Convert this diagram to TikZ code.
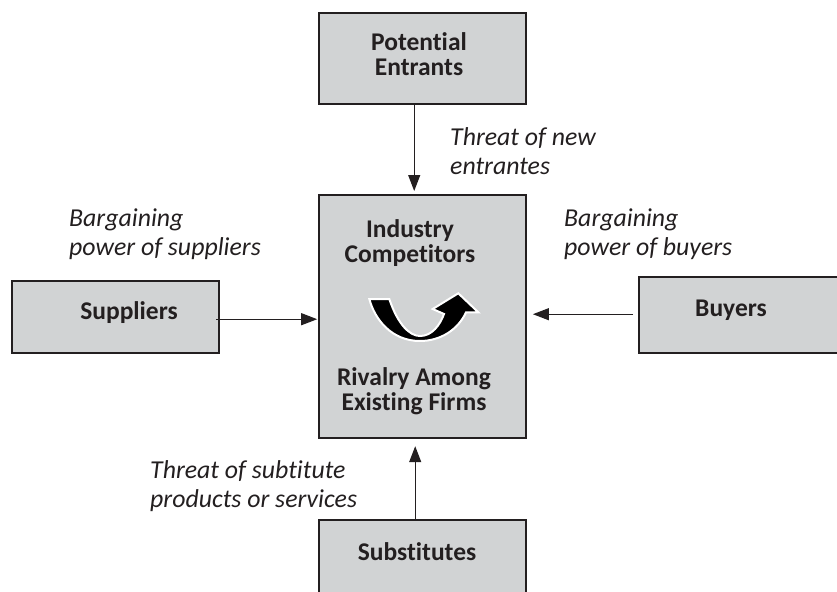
\documentclass[tikz,border=0pt]{standalone}
\usepackage{fontspec}
\setmainfont[Ligatures=NoCommon]{Carlito}
\usetikzlibrary{arrows.meta}
\definecolor{ink}{HTML}{231F20}
\definecolor{boxgray}{HTML}{D1D3D4}
\tikzset{
  boxnode/.style={draw=ink,fill=boxgray,line width=2.4pt,inner sep=0pt,anchor=north west},
  boldtext/.style={font=\fontsize{25.5}{25.5}\selectfont\bfseries,text=ink,align=center,inner sep=0pt},
  itext/.style={font=\fontsize{25.8}{28.5}\selectfont\itshape,text=ink,align=left,inner sep=0pt,anchor=west},
  arr/.style={draw=ink,line width=1.1pt,-{Triangle[length=16pt,width=12pt]}}
}
\begin{document}
\begin{tikzpicture}[x=1pt,y=-1pt]
\useasboundingbox (0,0) rectangle (837,591);
\begin{scope}
\clip (0,0) rectangle (837,591);
\node[boxnode,minimum width=207pt,minimum height=91pt] (pot) at (318,12) {};
\node[boxnode,minimum width=207pt,minimum height=243pt] (main) at (317.5,194) {};
\node[boxnode,minimum width=207pt,minimum height=72pt] (sup) at (11,280) {};
\node[boxnode,minimum width=200pt,minimum height=76pt] (buy) at (638,276) {};
\node[boxnode,minimum width=207pt,minimum height=90pt] (sub) at (317.5,519) {};
\end{scope}
\node[boldtext] (tpot) at (419,54) {Potential\\Entrants};
\node[boldtext] (tind) at (410,243) {Industry\\Competitors};
\node[boldtext] (triv) at (414,391) {Rivalry Among\\Existing Firms};
\node[boldtext] (tsup) at (129,313) {Suppliers};
\node[boldtext] (tbuy) at (731,310) {Buyers};
\node[boldtext] (tsub) at (417,552) {Substitutes};
\node[itext] (lnew) at (450,151) {Threat of new\\entrantes};
\node[itext] (lsup) at (69,234) {Bargaining\\power of suppliers};
\node[itext] (lbuy) at (564,234) {Bargaining\\power of buyers};
\node[itext] (lsub) at (150,486) {Threat of subtitute\\products or services};
\draw[arr,shorten >=3pt] ([xshift=-8.5pt]pot.south) -- ([xshift=-8pt]main.north);
\draw[arr,shorten <=-4pt,shorten >=0.3pt] ([yshift=-2pt]sup.east) -- ([yshift=-2.5pt]main.west);
\draw[arr,shorten <=4.8pt,shorten >=6pt] ([yshift=1pt]buy.west) -- ([yshift=2.5pt]main.east);
\draw[arr,shorten >=6.8pt] ([xshift=-7pt]sub.north) -- ([xshift=-7pt]main.south);
\draw[white,fill=black,line width=2pt,miter limit=10]
  (369.3,299) -- (389.3,299)
  .. controls (398,325) and (410,336) .. (420,336)
  .. controls (432,336) and (440,325) .. (444,314)
  -- (432.7,309) -- (458.3,293.3) -- (478.3,312.3) -- (466,312.3)
  .. controls (458,330) and (440,341) .. (420,341)
  .. controls (392,341) and (375,320) .. (369.3,299) -- cycle;
\end{tikzpicture}
\end{document}
